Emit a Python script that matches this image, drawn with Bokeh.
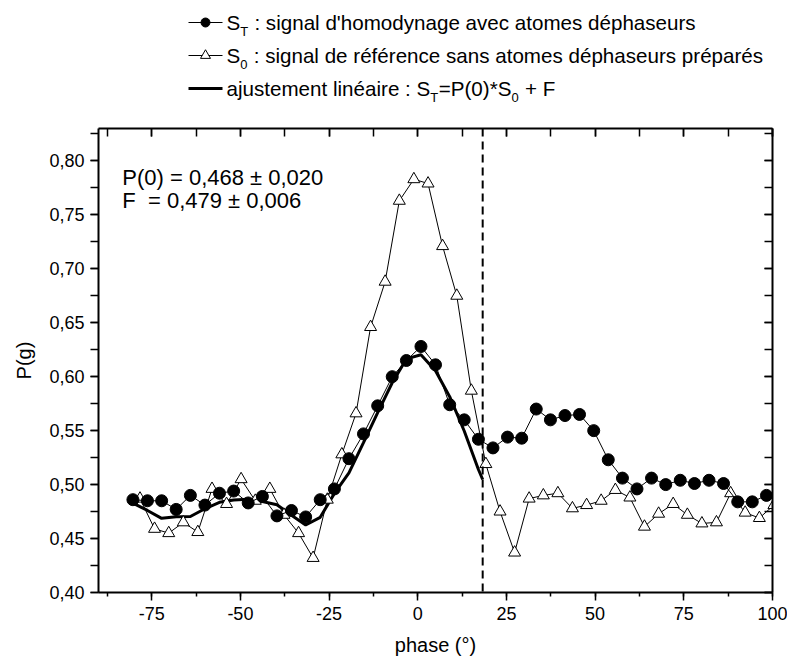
import numpy as np
from bokeh.plotting import figure
from bokeh.models import (Range1d, LinearAxis, SingleIntervalTicker,
                          CustomJSTickFormatter, Span, Label)
from bokeh.layouts import column
from bokeh.embed import file_html
from bokeh.resources import INLINE

FONT = "Liberation Sans"

# ---------------- data ----------------
phase_T = [-80.3, -76.2, -72.2, -68.1, -64.1, -60.0, -55.9, -51.9, -47.8, -43.8,
           -39.7, -35.6, -31.6, -27.5, -23.5, -19.4, -15.3, -11.3, -7.2, -3.2,
           0.9, 5.0, 9.0, 13.1, 17.1, 21.2, 25.3, 29.3, 33.4, 37.4,
           41.5, 45.6, 49.6, 53.7, 57.7, 61.8, 65.9, 69.9, 74.0, 78.0,
           82.1, 86.2, 90.2, 94.3, 98.3]
s_T = [0.486, 0.485, 0.485, 0.477, 0.490, 0.481, 0.492, 0.494, 0.483, 0.489,
       0.471, 0.476, 0.470, 0.486, 0.496, 0.524, 0.547, 0.573, 0.600, 0.615,
       0.628, 0.611, 0.574, 0.560, 0.542, 0.534, 0.544, 0.543, 0.570, 0.560,
       0.564, 0.565, 0.550, 0.523, 0.506, 0.496, 0.506, 0.500, 0.504, 0.501,
       0.504, 0.501, 0.484, 0.484, 0.490]

phase_0 = [-78.3, -74.2, -70.2, -66.1, -62.0, -58.0, -53.9, -49.8, -45.8, -41.7,
           -37.7, -33.6, -29.5, -25.5, -21.4, -17.4, -13.3, -9.2, -5.2, -1.1,
           2.9, 7.0, 11.0, 15.1, 19.2, 23.2, 27.3, 31.4, 35.4, 39.5,
           43.6, 47.6, 51.7, 55.7, 59.8, 63.9, 67.9, 72.0, 76.0, 80.1,
           84.2, 88.2, 92.3, 96.3, 100.4]
s_0 = [0.487, 0.459, 0.455, 0.465, 0.456, 0.496, 0.482, 0.505, 0.485, 0.496,
       0.472, 0.455, 0.432, 0.486, 0.528, 0.566, 0.646, 0.688, 0.763, 0.783,
       0.779, 0.721, 0.675, 0.587, 0.519, 0.475, 0.437, 0.487, 0.490, 0.492,
       0.478, 0.481, 0.485, 0.495, 0.488, 0.461, 0.473, 0.482, 0.472, 0.464,
       0.465, 0.492, 0.474, 0.469, 0.481]

P0 = 0.468
F = 0.479
cutoff_phase = 18.3

x_ticks_interval = 25
y_ticks_interval = 0.05

legend_texts = [
    [("S", "big"), ("T", "sub"), (" : signal d'homodynage avec atomes déphaseurs", "big")],
    [("S", "big"), ("0", "sub"), (" : signal de référence sans atomes déphaseurs préparés", "big")],
    [("ajustement linéaire : S", "big"), ("T", "sub"), ("=P(0)*S", "big"), ("0", "sub"), (" + F", "big")],
]
annot_1 = "P(0) = 0,468 ± 0,020"
annot_2 = "F\u00a0\u00a0= 0,479 ± 0,006"

# linear fit S_T = P(0)*S_0 + (1-P(0))*F, shown up to the cut-off phase
fit_phase = [ph for ph in phase_T if ph <= cutoff_phase] + [cutoff_phase]
fit_vals = P0 * np.interp(fit_phase, phase_0, s_0) + (1 - P0) * F

# ---------------- layout constants ----------------
W = 787
LEG_H = 120
MAIN_H = 540
BL, BR = 98, 15

# ---------------- main figure ----------------
p = figure(width=W, height=MAIN_H, x_range=Range1d(-90, 100), y_range=Range1d(0.40, 0.83),
           output_backend="svg", toolbar_location=None,
           min_border_left=BL, min_border_right=BR, min_border_top=8, min_border_bottom=68,
           x_axis_label="phase (°)", y_axis_label="P(g)")
p.grid.visible = False
p.outline_line_color = None
p.background_fill_color = "white"
p.border_fill_color = "white"

xfmt = CustomJSTickFormatter(code="return tick.toFixed(0);")
yfmt = CustomJSTickFormatter(code="return tick.toFixed(2).replace('.', ',');")
nofmt = CustomJSTickFormatter(code="return '';")


def style_axis(ax, labels=True):
    ax.axis_line_color = "black"
    ax.axis_line_width = 2
    ax.major_tick_line_color = "black"
    ax.minor_tick_line_color = "black"
    ax.major_tick_line_width = 1.5
    ax.minor_tick_line_width = 1.5
    if labels:
        ax.major_label_text_font = FONT
        ax.major_label_text_font_size = "18px"
        ax.major_label_text_color = "black"
        ax.axis_label_text_font = FONT
        ax.axis_label_text_font_size = "20px"
        ax.axis_label_text_font_style = "normal"
        ax.axis_label_text_color = "black"
    else:
        ax.major_label_text_font_size = "1px"
        ax.major_label_standoff = 0


xax = p.xaxis[0]
xax.ticker = SingleIntervalTicker(interval=x_ticks_interval, num_minor_ticks=2)
xax.formatter = xfmt
style_axis(xax)
xax.major_tick_out = 8
xax.major_tick_in = 0
xax.minor_tick_out = 4
xax.minor_tick_in = 0
xax.major_label_standoff = 6
xax.axis_label_standoff = 11

yax = p.yaxis[0]
yax.ticker = SingleIntervalTicker(interval=y_ticks_interval, num_minor_ticks=2)
yax.formatter = yfmt
style_axis(yax)
yax.major_tick_out = 8
yax.major_tick_in = 0
yax.minor_tick_out = 8
yax.minor_tick_in = 0
yax.major_label_standoff = 6
yax.axis_label_standoff = 11

top = LinearAxis(ticker=SingleIntervalTicker(interval=x_ticks_interval, num_minor_ticks=2),
                 formatter=nofmt, major_tick_in=8, major_tick_out=0,
                 minor_tick_in=8, minor_tick_out=0)
style_axis(top, labels=False)
p.add_layout(top, "above")

right = LinearAxis(ticker=SingleIntervalTicker(interval=y_ticks_interval, num_minor_ticks=2),
                   formatter=nofmt, major_tick_in=8, major_tick_out=0,
                   minor_tick_in=8, minor_tick_out=0)
style_axis(right, labels=False)
p.add_layout(right, "right")

# fit line
p.line(fit_phase, fit_vals, line_color="black", line_width=3)
# reference signal S_0
p.line(phase_0, s_0, line_color="black", line_width=1)
p.scatter(phase_0, s_0, marker="triangle", size=12, fill_color="white",
          line_color="black", line_width=1)
# S_T signal
p.line(phase_T, s_T, line_color="black", line_width=1)
p.scatter(phase_T, s_T, marker="circle", size=12, fill_color="black", line_color="black")

p.add_layout(Span(location=cutoff_phase, dimension="height", line_color="black",
                  line_width=2, line_dash="8 5"))

p.add_layout(Label(x=-83.3, y=0.7846, text=annot_1, text_font=FONT, text_font_size="22px",
                   text_color="black", text_baseline="middle", text_align="left"))
p.add_layout(Label(x=-83.3, y=0.7637, text=annot_2, text_font=FONT, text_font_size="22px",
                   text_color="black", text_baseline="middle", text_align="left"))

# ---------------- legend figure (1 data unit = 1 pixel) ----------------
leg = figure(width=W, height=LEG_H, x_range=Range1d(BL, W - BR), y_range=Range1d(LEG_H, 0),
             output_backend="svg", toolbar_location=None,
             min_border_left=BL, min_border_right=BR, min_border_top=0, min_border_bottom=0,
             x_axis_type=None, y_axis_type=None)
leg.outline_line_color = None
leg.grid.visible = False

ARIAL = {' ': 278, "'": 191, '(': 333, ')': 333, '*': 389, '+': 584, ',': 278, '-': 333,
         '.': 278, ':': 278, '=': 584, '°': 400, '±': 549,
         'A': 667, 'F': 611, 'P': 667, 'S': 667, 'T': 611,
         'a': 556, 'b': 556, 'c': 500, 'd': 556, 'e': 556, 'f': 278, 'g': 556, 'h': 556,
         'i': 222, 'j': 222, 'k': 500, 'l': 222, 'm': 833, 'n': 556, 'o': 556, 'p': 556,
         'q': 556, 'r': 333, 's': 500, 't': 278, 'u': 556, 'v': 500, 'w': 722, 'x': 500,
         'y': 500, 'z': 500, 'é': 556}


def tw(s, size):
    return sum(ARIAL.get(c, 556) for c in s) * size / 1000.0


BIG, SUB = 20.6, 13
row_centers = [22, 55, 88]
sym_x0, sym_x1, text_x0 = 188, 222, 226

for row, yc in zip(legend_texts, row_centers):
    xcur = text_x0
    for txt, kind in row:
        size = BIG if kind == "big" else SUB
        stripped = txt.lstrip(" ")
        xcur += tw(txt[:len(txt) - len(stripped)], size)
        leg.add_layout(Label(x=xcur, y=(yc if kind == "big" else yc + 9), text=stripped,
                             text_font=FONT, text_font_size=f"{size}px", text_color="black",
                             text_baseline="middle", text_align="left"))
        xcur += tw(stripped, size) + (0.5 if kind == "sub" else 0)

sym_mid = (sym_x0 + sym_x1) / 2
leg.segment(x0=[sym_x0, sym_x0], y0=row_centers[:2], x1=[sym_x1, sym_x1], y1=row_centers[:2],
            line_color="black", line_width=1)
leg.segment(x0=[sym_x0], y0=[row_centers[2]], x1=[sym_x1], y1=[row_centers[2]],
            line_color="black", line_width=3)
leg.scatter([sym_mid], [row_centers[0]], marker="circle", size=9, fill_color="black",
            line_color="black")
leg.scatter([sym_mid], [row_centers[1]], marker="triangle", size=10, fill_color="white",
            line_color="black")

layout = column(leg, p, spacing=0)

open("out.html", "w").write(file_html(layout, INLINE))
